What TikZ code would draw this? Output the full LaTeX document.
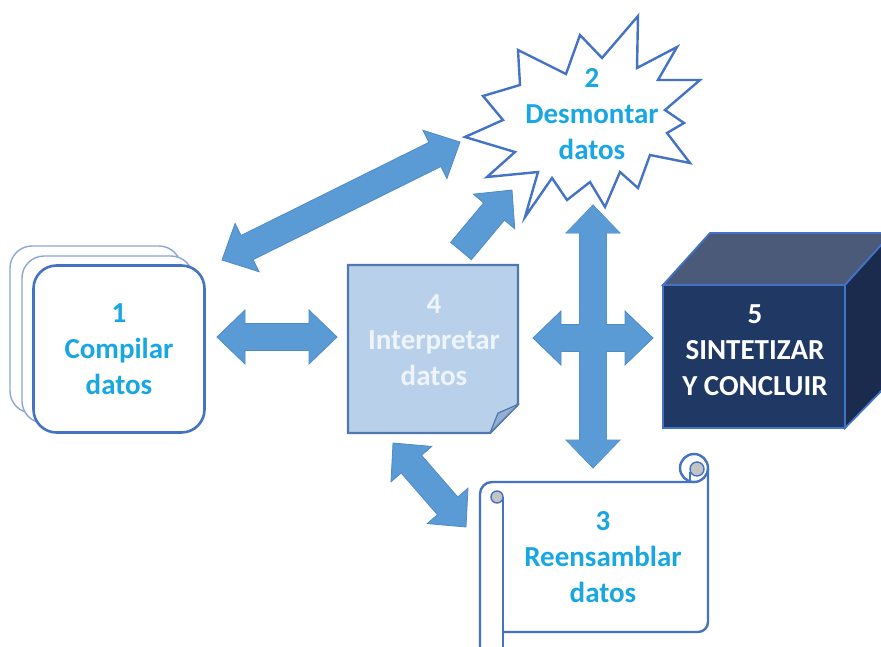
\documentclass[tikz,border=0pt]{standalone}
\usepackage{fontspec}
\setmainfont{Carlito}
\usetikzlibrary{calc}

\definecolor{arrowfill}{HTML}{5B9BD5}
\definecolor{arrowedge}{HTML}{4F8BC9}
\definecolor{shapeedge}{HTML}{4472C4}
\definecolor{stackedge}{HTML}{8EA5D8}
\definecolor{labelblue}{HTML}{19A7E3}
\definecolor{notefill}{HTML}{B9D0EA}
\definecolor{noteedge}{HTML}{4E78AE}
\definecolor{noteflap}{HTML}{95AECF}
\definecolor{notetext}{HTML}{EEF4FB}
\definecolor{cubefront}{HTML}{203864}
\definecolor{cubetop}{HTML}{4A5A78}
\definecolor{cubeside}{HTML}{1A2B4D}
\definecolor{rollgray}{HTML}{C4C4C4}

% block arrow with a head at both ends, from #2 to #3
\newcommand{\barrowdouble}[3][]{%
  \path[blockarrow,#1] (#2)
    -- ($(#2)!28pt!(#3)!27pt!90:(#3)$)
    -- ($(#2)!28pt!(#3)!13.5pt!90:(#3)$)
    -- ($(#3)!28pt!(#2)!13.5pt!-90:(#2)$)
    -- ($(#3)!28pt!(#2)!27pt!-90:(#2)$)
    -- (#3)
    -- ($(#3)!28pt!(#2)!27pt!90:(#2)$)
    -- ($(#3)!28pt!(#2)!13.5pt!90:(#2)$)
    -- ($(#2)!28pt!(#3)!13.5pt!-90:(#3)$)
    -- ($(#2)!28pt!(#3)!27pt!-90:(#3)$)
    -- cycle;}
% block arrow with a single head, tail at #2, tip at #3
\newcommand{\barrowsingle}[3][]{%
  \path[blockarrow,#1] ($(#2)!13.5pt!90:(#3)$)
    -- ($(#3)!28pt!(#2)!13.5pt!-90:(#2)$)
    -- ($(#3)!28pt!(#2)!27pt!-90:(#2)$)
    -- (#3)
    -- ($(#3)!28pt!(#2)!27pt!90:(#2)$)
    -- ($(#3)!28pt!(#2)!13.5pt!90:(#2)$)
    -- ($(#2)!13.5pt!-90:(#3)$)
    -- cycle;}

\begin{document}
\begin{tikzpicture}[x=1pt,y=-1pt,
  every node/.style={align=center,font=\fontsize{29}{36}\selectfont\bfseries},
  lbl/.style={text=labelblue},
  blockarrow/.style={fill=arrowfill,draw=arrowedge,line width=0.8pt,line join=miter},
  stackback/.style={draw=stackedge,fill=white,line width=1.4pt,rounded corners=22pt},
  stackfront/.style={draw=shapeedge,fill=white,line width=2.6pt,rounded corners=23pt,
    minimum width=171pt,minimum height=167pt,inner sep=0pt},
  outline/.style={draw=shapeedge,line width=2.4pt,line join=miter},
  scrollline/.style={draw=shapeedge,line width=2.4pt}]
\useasboundingbox (0,0) rectangle (881,646);
\fill[white] (0,0) rectangle (881,646);

% 1: stack of rounded cards
\draw[stackback] (10,246) rectangle ++(171,167);
\draw[stackback] (22,256) rectangle ++(171,167);
\node[stackfront,lbl] (compilar) at (119,349) {1\\Compilar\\datos};

% 2: explosion
\draw[outline,fill=white] (518,50) -- (566,74) -- (580,35) -- (602,58) -- (638,16)
  -- (637,68) -- (677,47) -- (658,80) -- (700,80) -- (665,110) -- (684,123)
  -- (667,133) -- (690,163) -- (650,155) -- (638,188) -- (620,172) -- (605,207)
  -- (590,182) -- (567,200) -- (552,178) -- (525,217) -- (538,172) -- (487,177)
  -- (515,152) -- (465,137) -- (503,120) -- (483,96) -- (520,85) -- cycle;
\node[lbl] (desmontar) at (592,114) {2\\Desmontar\\datos};

% 4: note with folded corner
\draw[draw=noteedge,line width=2.4pt,fill=notefill,line join=miter]
  (348,265) -- (518,265) -- (518,404) -- (490,433) -- (348,433) -- cycle;
\draw[draw=noteedge,line width=1.2pt,fill=noteflap,line join=round]
  (519,404) -- (498,413) -- (490,433) -- cycle;
\node[text=notetext] (interpretar) at (434,340) {4\\Interpretar\\datos};

% 5: cube
\draw[draw=shapeedge,line width=1.8pt,fill=cubetop,line join=miter]
  (663,285) -- (710,233) -- (892,233) -- (845,285) -- cycle;
\draw[draw=shapeedge,line width=1.8pt,fill=cubeside,line join=miter]
  (845,285) -- (892,233) -- (892,380) -- (845,428) -- cycle;
\draw[draw=shapeedge,line width=1.8pt,fill=cubefront]
  (663,285) rectangle (845,428);
\node[text=white] (sintetizar) at (755,350) {5\\SINTETIZAR\\Y CONCLUIR};

% 3: horizontal scroll
\fill[white] (503,482) rectangle (708,632);
\draw[scrollline,fill=white] (480,660) -- (480,494)
  arc[start angle=180,end angle=270,radius=12] -- (694,482);
\draw[scrollline] (503,660) -- (503,497);
\draw[scrollline,fill=white] (694,468) circle[radius=14];
\draw[scrollline,rounded corners=10pt] (708,468) -- (708,632) -- (503,632);
\draw[draw=shapeedge,line width=1.4pt,fill=rollgray] (697,469) circle[radius=7];
\draw[scrollline,line width=1.6pt] (690,472) -- (690,482);
\draw[draw=shapeedge,line width=1.4pt,fill=rollgray] (497,497) circle[radius=6];
\node[lbl] (reensamblar) at (603,557) {3\\Reensamblar\\datos};

% arrow ends
\coordinate (a1) at (222,260);  \coordinate (a2) at (460,142);
\coordinate (b1) at (461,251);  \coordinate (b2) at (512,190);
\coordinate (c1) at (217,337);  \coordinate (c2) at (337,337);
\coordinate (v1) at (593,205);  \coordinate (v2) at (593,468);
\coordinate (h1) at (533,338);  \coordinate (h2) at (653,338);
\coordinate (e1) at (393,443);  \coordinate (e2) at (466,527);

\barrowdouble{a1}{a2}
\barrowsingle{b1}{b2}
\barrowdouble{c1}{c2}
\barrowdouble{e1}{e2}
% four-way cross
\barrowdouble{v1}{v2}
\barrowdouble{h1}{h2}
\barrowdouble[draw=none]{v1}{v2}
\end{tikzpicture}
\end{document}
